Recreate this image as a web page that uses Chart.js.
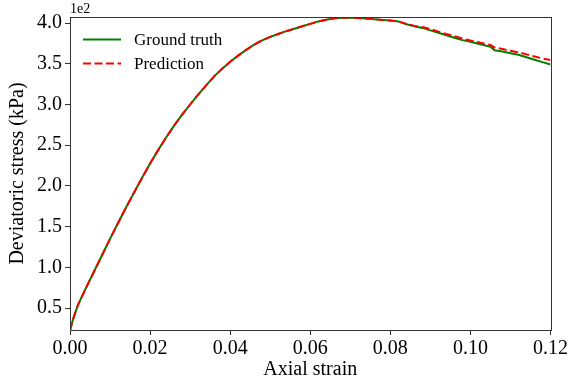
<!DOCTYPE html>
<html>
<head>
<meta charset="utf-8">
<script src="https://cdn.jsdelivr.net/npm/chart.js@4/dist/chart.umd.min.js"></script>
<style>
  html, body { margin: 0; padding: 0; background: #fff; }
  #wrap { width: 570px; height: 387px; }
</style>
</head>
<body>
<div id="wrap"><canvas id="chart" width="570" height="387"></canvas></div>
<script>
// axial strain samples
var strain = [0, 0.001, 0.002, 0.004, 0.006, 0.008, 0.010, 0.012, 0.014, 0.016, 0.018,
  0.020, 0.022, 0.024, 0.026, 0.028, 0.030, 0.032, 0.034, 0.036, 0.038,
  0.040, 0.042, 0.044, 0.046, 0.048, 0.050, 0.052, 0.054, 0.056, 0.058,
  0.060, 0.062, 0.064, 0.066, 0.068, 0.070, 0.072, 0.074, 0.076, 0.078,
  0.080, 0.082, 0.084, 0.086, 0.088, 0.090, 0.092, 0.094, 0.096, 0.098,
  0.100, 0.102, 0.104, 0.105, 0.106, 0.108, 0.110, 0.112, 0.114, 0.116,
  0.118, 0.120];

// deviatoric stress, units of 1e2 kPa
var groundTruth = [0.23, 0.40, 0.54, 0.75, 0.95, 1.15, 1.35, 1.545, 1.735, 1.92, 2.10,
  2.275, 2.44, 2.595, 2.74, 2.875, 3.00, 3.12, 3.235, 3.345, 3.44,
  3.525, 3.60, 3.67, 3.735, 3.788, 3.83, 3.865, 3.90, 3.93, 3.96,
  3.99, 4.02, 4.04, 4.058, 4.066, 4.067, 4.062, 4.055, 4.047, 4.038,
  4.03, 4.02, 3.985, 3.96, 3.94, 3.91, 3.88, 3.85, 3.82, 3.79,
  3.77, 3.745, 3.72, 3.71, 3.665, 3.65, 3.63, 3.61, 3.58, 3.55,
  3.52, 3.49];

var prediction = [0.23, 0.40, 0.54, 0.75, 0.95, 1.15, 1.35, 1.545, 1.735, 1.92, 2.10,
  2.275, 2.44, 2.595, 2.74, 2.875, 3.00, 3.12, 3.235, 3.345, 3.44,
  3.525, 3.60, 3.67, 3.735, 3.788, 3.83, 3.865, 3.90, 3.93, 3.96,
  3.99, 4.02, 4.04, 4.058, 4.066, 4.067, 4.062, 4.055, 4.047, 4.038,
  4.03, 4.02, 3.99, 3.965, 3.95, 3.925, 3.895, 3.865, 3.84, 3.81,
  3.785, 3.765, 3.74, 3.73, 3.70, 3.68, 3.66, 3.64, 3.615, 3.59,
  3.565, 3.545];

var yTicks = [0.5, 1.0, 1.5, 2.0, 2.5, 3.0, 3.5, 4.0];
var xTicks = [0, 0.02, 0.04, 0.06, 0.08, 0.10, 0.12];

var serif = "'Liberation Serif', 'Times New Roman', serif";

function toPoints(xs, ys) {
  var pts = [];
  for (var i = 0; i < xs.length; i++) pts.push({x: xs[i], y: ys[i]});
  return pts;
}

// frame, offset text and in-plot legend like matplotlib
var extras = {
  id: 'extras',
  afterDatasetsDraw: function (chart) {
    var ctx = chart.ctx;
    var a = chart.chartArea;
    ctx.save();
    ctx.strokeStyle = '#333';
    ctx.lineWidth = 1;
    ctx.strokeRect(Math.round(a.left) + 0.5, Math.round(a.top) + 0.5,
      Math.round(a.right - a.left), Math.round(a.bottom - a.top));

    ctx.fillStyle = '#000';
    ctx.font = '14px ' + serif;
    ctx.textAlign = 'left';
    ctx.textBaseline = 'alphabetic';
    ctx.fillText('1e2', a.left, a.top - 4);

    ctx.font = '17px ' + serif;
    ctx.textBaseline = 'middle';
    chart.data.datasets.forEach(function (ds, i) {
      var y = 39.5 + i * 24;
      ctx.beginPath();
      ctx.strokeStyle = ds.borderColor;
      ctx.lineWidth = ds.borderWidth;
      ctx.setLineDash(ds.borderDash || []);
      ctx.moveTo(83, y);
      ctx.lineTo(121, y);
      ctx.stroke();
      ctx.setLineDash([]);
      ctx.fillText(ds.label, 134, y + 1);
    });
    ctx.restore();
  }
};

new Chart(document.getElementById('chart'), {
  type: 'line',
  data: {
    datasets: [
      {
        label: 'Ground truth',
        data: toPoints(strain, groundTruth),
        borderColor: 'green',
        borderWidth: 2,
        pointRadius: 0,
        tension: 0,
        order: 2
      },
      {
        label: 'Prediction',
        data: toPoints(strain, prediction),
        borderColor: 'red',
        borderWidth: 2,
        borderDash: [8, 3.5],
        pointRadius: 0,
        tension: 0,
        order: 1
      }
    ]
  },
  options: {
    responsive: false,
    animation: false,
    layout: { padding: { left: 0, top: 17, right: 19, bottom: 0 } },
    plugins: {
      legend: { display: false },
      tooltip: { enabled: false }
    },
    scales: {
      x: {
        type: 'linear',
        min: 0,
        max: 0.12,
        afterBuildTicks: function (s) { s.ticks = xTicks.map(function (v) { return {value: v}; }); },
        afterFit: function (s) { s.height = 57; },
        grid: { drawOnChartArea: false, tickLength: 5, color: '#333', tickWidth: 1 },
        border: { display: false },
        ticks: {
          color: '#000',
          font: { family: serif, size: 20 },
          padding: 2,
          maxRotation: 0,
          callback: function (v) { return v.toFixed(2); }
        },
        title: {
          display: true,
          text: 'Axial strain',
          color: '#000',
          font: { family: serif, size: 20 },
          padding: { top: 0, bottom: 5 }
        }
      },
      y: {
        type: 'linear',
        min: 0.232,
        max: 4.074,
        afterBuildTicks: function (s) { s.ticks = yTicks.map(function (v) { return {value: v}; }); },
        afterFit: function (s) { s.width = 70; },
        grid: { drawOnChartArea: false, tickLength: 5, color: '#333', tickWidth: 1 },
        border: { display: false },
        ticks: {
          color: '#000',
          font: { family: serif, size: 20 },
          padding: 3,
          callback: function (v) { return v.toFixed(1); }
        },
        title: {
          display: true,
          text: 'Deviatoric stress (kPa)',
          color: '#000',
          font: { family: serif, size: 20 },
          padding: { top: 6, bottom: 0 }
        }
      }
    }
  },
  plugins: [extras]
});
</script>
</body>
</html>
